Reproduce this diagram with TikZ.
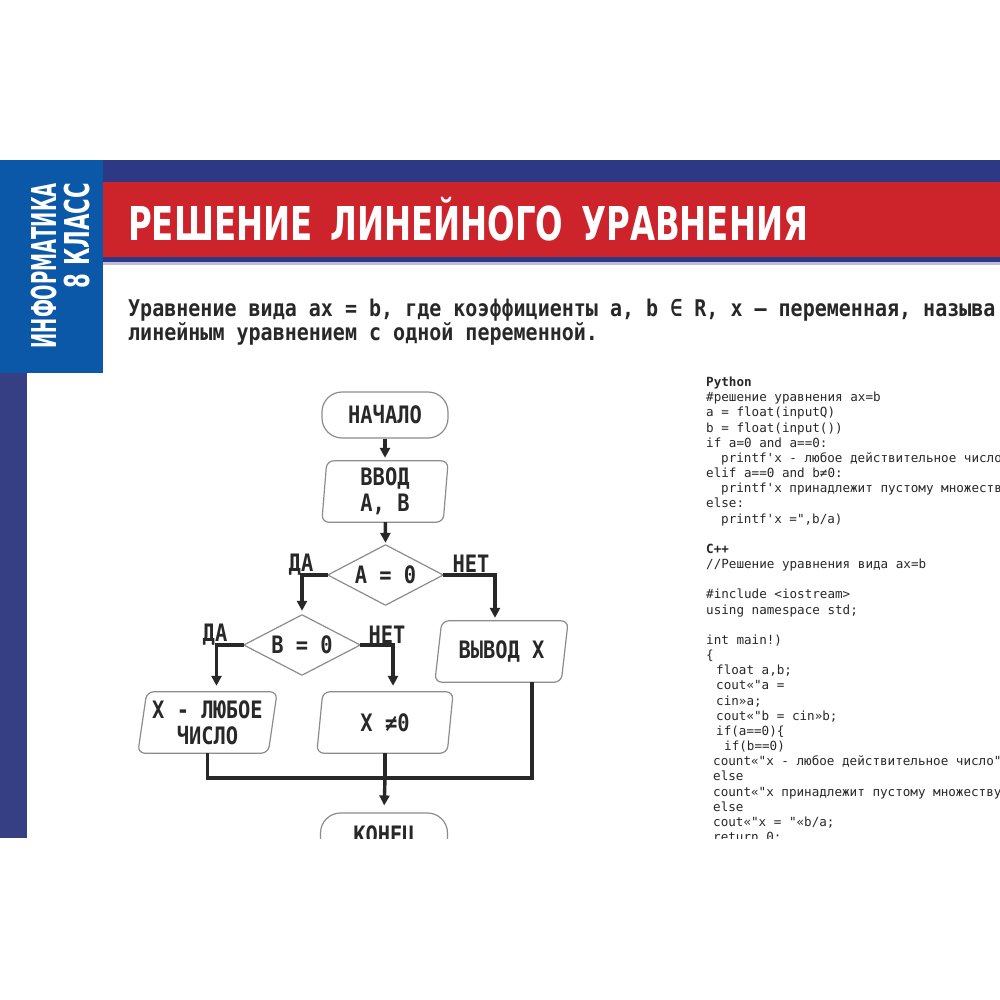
\documentclass[tikz,border=0pt]{standalone}
\usepackage{fontspec}
\usepackage{graphicx}
\usetikzlibrary{arrows.meta,calc}
\newfontfamily\codefont{DejaVu Sans Mono}
\newfontfamily\defnfont{DejaVu Sans Mono}[FakeStretch=0.87]
\newfontfamily\fcfont{DejaVu Sans Mono}[FakeStretch=0.85]
\newfontfamily\headfont{DejaVu Sans}
\definecolor{navy}{RGB}{46,57,134}
\definecolor{bandred}{RGB}{205,35,43}
\definecolor{boxblue}{RGB}{12,88,168}
\definecolor{stripnavy}{RGB}{54,62,132}
\definecolor{paleline}{RGB}{185,192,220}
\definecolor{ink}{RGB}{40,40,40}
\definecolor{codeink}{RGB}{40,40,40}
\definecolor{outline}{RGB}{140,140,140}
\definecolor{wire}{RGB}{40,40,40}
\tikzset{
  shapeline/.style={draw=outline, line width=1.2pt, line join=round},
  conn/.style={draw=wire, line width=3.4pt},
  arr/.style={conn, -{Triangle[length=10pt,width=10pt]}},
  fctext/.style={font=\fcfont\bfseries\fontsize{24}{26}\selectfont, text=ink, inner sep=0pt, align=center},
  fcbox/.style={fctext},
  codeline/.style={font=\codefont\fontsize{12.6}{15}\selectfont, text=codeink, anchor=base west, inner sep=0pt},
  defline/.style={font=\defnfont\bfseries\fontsize{23}{24}\selectfont, text=ink, anchor=base west, inner sep=0pt}
}
\newcommand\codeln[3]{\node[codeline] (code#1) at (#2,{386.5+15.17*#1}) {#3};}
\newcommand\paragram[2]{\draw[shapeline, rounded corners=7pt] ([xshift=#2]#1.north) -- ([xshift=#2]#1.north east) -- ([xshift=-#2]#1.south east) -- ([xshift=-#2]#1.south west) -- ([xshift=#2]#1.north west) -- cycle;}
\begin{document}
\begin{tikzpicture}[x=1pt,y=-1pt]
\useasboundingbox (0,0) rectangle (1000,1000);
\fill[white] (0,0) rectangle (1000,1000);
\begin{scope}
\clip (0,160.5) rectangle (1000,838);
% bands
\fill[navy] (103,160.5) rectangle (1000,182);
\fill[bandred] (103,182) rectangle (1000,257);
\fill[navy] (103,257) rectangle (1000,262);
\fill[paleline] (103,262) rectangle (1000,264.5);
\fill[boxblue] (0,160.5) rectangle (102.5,373);
\fill[stripnavy] (0,373) rectangle (27,838);
% side label
\node[rotate=90, anchor=south east, inner sep=0pt, text=white] (subj) at (57,183)
  {\resizebox{165pt}{25pt}{\headfont\bfseries\raisebox{0pt}[0.729em][0pt]{ИНФОРМАТИКА}}};
\node[rotate=90, anchor=south east, inner sep=0pt, text=white] (grade) at (90,183)
  {\resizebox{105pt}{25pt}{\headfont\bfseries\raisebox{0pt}[0.729em][0pt]{8 КЛАСС}}};
% title
\node[anchor=base west, inner sep=0pt, text=white] (title) at (128,241)
  {\resizebox{680pt}{34pt}{\headfont\bfseries\raisebox{0pt}[0.729em][0pt]{РЕШЕНИЕ\hspace{0.55em}ЛИНЕЙНОГО\hspace{0.55em}УРАВНЕНИЯ}}};
% definition
\node[defline] (def1) at (128,316) {Уравнение вида ax = b, где коэффициенты a, b ∈ R, x — переменная, называ};
\node[defline] (def2) at (128,340.5) {линейным уравнением с одной переменной.};
% code
\codeln{0}{706}{\bfseries Python}
\codeln{1}{706}{\#решение уравнения ax=b}
\codeln{2}{706}{a = float(inputQ)}
\codeln{3}{706}{b = float(input())}
\codeln{4}{706}{if a=0 and a==0:}
\codeln{5}{721}{printf'x - любое действительное число}
\codeln{6}{706}{elif a==0 and b≠0:}
\codeln{7}{721}{printf'x принадлежит пустому множеств}
\codeln{8}{706}{else:}
\codeln{9}{721}{printf'x =",b/a)}
\codeln{11}{706}{\bfseries C++}
\codeln{12}{706}{//Решение уравнения вида ax=b}
\codeln{14}{706}{\#include <iostream>}
\codeln{15}{706}{using namespace std;}
\codeln{17}{706}{int main!)}
\codeln{18}{706}{\{}
\codeln{19}{716}{float a,b;}
\codeln{20}{716}{cout«"a =}
\codeln{21}{716}{cin»a;}
\codeln{22}{716}{cout«"b = cin»b;}
\codeln{23}{716}{if(a==0)\{}
\codeln{24}{724}{if(b==0)}
\codeln{25}{713}{count«"x - любое действительное число"}
\codeln{26}{713}{else}
\codeln{27}{713}{count«"x принадлежит пустому множеству}
\codeln{28}{713}{else}
\codeln{29}{713}{cout«"x = "«b/a;}
\codeln{30}{713}{return 0;}
% flowchart nodes
\node[fcbox, shapeline, rounded corners=20pt, minimum width=126pt, minimum height=46pt] (start) at (385,415) {НАЧАЛО};
\node[fcbox, minimum width=121pt, minimum height=61pt] (inp) at (385,491.5) {ВВОД\\А, В};
\paragram{inp}{2.5pt}
\node[fcbox, minimum width=115pt, minimum height=60pt] (A) at (385.5,575) {А = 0};
\draw[shapeline] (A.north) -- (A.east) -- (A.south) -- (A.west) -- cycle;
\node[fcbox, minimum width=116pt, minimum height=60pt] (B) at (302,645) {В = 0};
\draw[shapeline] (B.north) -- (B.east) -- (B.south) -- (B.west) -- cycle;
\node[fcbox, minimum width=126pt, minimum height=61pt] (V) at (501.5,651.5) {ВЫВОД X};
\paragram{V}{3.5pt}
\node[fcbox, minimum width=130pt, minimum height=61pt] (L) at (207.5,722.5) {X - ЛЮБОЕ\\ЧИСЛО};
\paragram{L}{4.5pt}
\node[fcbox, minimum width=130pt, minimum height=61pt] (N) at (385,722.5) {X ≠0};
\paragram{N}{3pt}
\node[fcbox, shapeline, rounded corners=20pt, minimum width=127pt, minimum height=46pt] (stop) at (384,836) {КОНЕЦ};
% labels
\node[fctext] (daA) at (301,565) {ДА};
\node[fctext] (netA) at (471,564) {НЕТ};
\node[fctext] (daB) at (215,634.5) {ДА};
\node[fctext] (netB) at (387,634.5) {НЕТ};
% connectors
\draw[arr, shorten >=3pt] (start) -- (inp);
\draw[arr, shorten >=2pt] (inp) -- (A.north);
\draw[arr, shorten >=4pt] (A.west) -| (B.north);
\draw[arr, shorten >=3pt] (A.east) -| ([xshift=-6.5pt]V.north);
\draw[arr, shorten >=6pt] (B.west) -| ([xshift=9pt]L.north);
\draw[arr, shorten >=6pt] (B.east) -| ([xshift=8pt]N.north);
\coordinate (bus) at (0,778);
\coordinate (vout) at ([xshift=30.5pt]V.south);
\draw[conn] (L.south) |- (bus -| vout) -- (vout);
\draw[conn] (N.south) -- (N.south |- bus);
\draw[arr, shorten >=7pt] (N.south |- bus) -- (stop.north);
\end{scope}
\end{tikzpicture}
\end{document}
